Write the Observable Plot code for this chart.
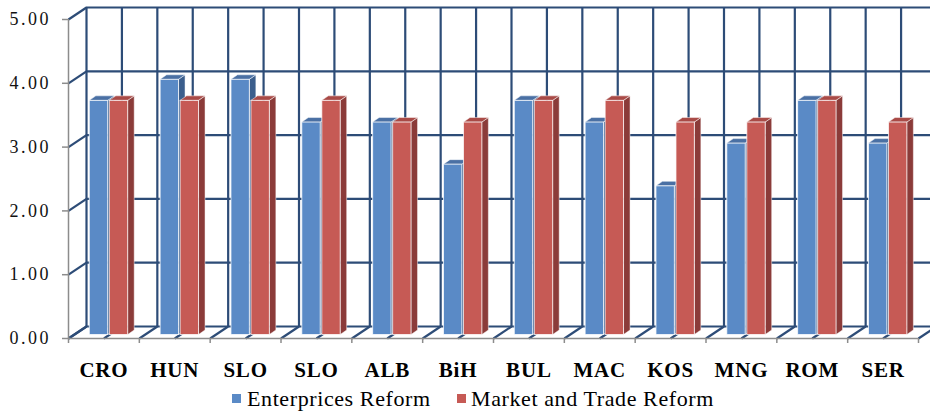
<!DOCTYPE html>
<html><head><meta charset="utf-8">
<script src="https://cdn.jsdelivr.net/npm/d3@7"></script>
<script src="https://cdn.jsdelivr.net/npm/@observablehq/plot@0.6"></script>
<style>
html,body{margin:0;padding:0;background:#fff;overflow:hidden;}
#chart svg{display:block;overflow:hidden;}
#chart g[text-anchor="end"] text{letter-spacing:2.5px;}
#chart g[font-weight="bold"] text{letter-spacing:0.8px;}
#legend{position:relative;width:930px;height:28px;font-family:"Liberation Serif","Times New Roman",serif;font-size:22px;letter-spacing:0.6px;color:#000;}
#legend .sw{position:absolute;top:9px;width:9px;height:9px;}
#legend .lb{position:absolute;top:3px;line-height:22px;white-space:nowrap;}
</style></head><body>
<div id="chart"></div>
<div id="legend"></div>
<script>
// ---- data ----
const categories = ["CRO","HUN","SLO","SLO","ALB","BiH","BUL","MAC","KOS","MNG","ROM","SER"];
const enterprisesReform = [3.67,4.00,4.00,3.33,3.33,2.67,3.67,3.33,2.33,3.00,3.67,3.00];
const marketTradeReform = [3.67,3.67,3.67,3.67,3.33,3.33,3.67,3.67,3.33,3.33,3.67,3.33];
const seriesNames = ["Enterprices Reform","Market and Trade Reform"];
const valueTicks = [0,1,2,3,4,5];

// ---- styles / layout ----
const frontColors = ["#5A8AC6","#C65A55"];
const sideColors = ["#3B5E8C","#8B3B39"];
const topColors = ["#4A70A4","#A94A46"];
const gridColor = "#2D4C77";
const axisColor = "#8C8C8C";
const W = 930, H = 385, ML = 68, MR = 12, MT = 19, MB = 47;
const nCat = categories.length;
const catPx = (W - ML - MR) / nCat;
const unitPx = (H - MT - MB) / 5;
const px2x = p => p / catPx, px2y = p => p / unitPx;
const wallDX = px2x(18), wallDY = px2y(12);
const faceDX = px2x(5), faceDY = px2y(3.5);
const depthDX = px2x(6.5), depthDY = px2y(4.5);
const barW = px2x(18.4), barGap = px2x(1.6), barStart = px2x(16.3);

const series = [enterprisesReform, marketTradeReform];
const bars = [];
categories.forEach((c, i) => series.forEach((vals, s) => bars.push({i, s, c, v: vals[i], id: i * 2 + s})));
const xl = b => b.i + faceDX + barStart + b.s * (barW + barGap);
const xr = b => xl(b) + barW;

const sides = bars.flatMap(b => [
  {id: b.id, s: b.s, x: xr(b), y1: faceDY, y2: b.v + faceDY},
  {id: b.id, s: b.s, x: xr(b) + depthDX, y1: faceDY + depthDY, y2: b.v + faceDY + depthDY}
]);
const tops = bars.flatMap(b => [
  {id: b.id, s: b.s, y: b.v + faceDY, x1: xl(b), x2: xr(b)},
  {id: b.id, s: b.s, y: b.v + faceDY + depthDY, x1: xl(b) + depthDX, x2: xr(b) + depthDX}
]);
const gridX = d3.range(0, nCat + 0.01, 0.5);
const catBounds = d3.range(0, nCat + 1);

const barMarks = [];
[0, 1].forEach(s => barMarks.push(
  Plot.areaY(sides.filter(d => d.s === s), {x: "x", y1: "y1", y2: "y2", z: "id", fill: sideColors[s], stroke: "#ffffff", strokeWidth: 0.8, strokeOpacity: 0.6})
));
[0, 1].forEach(s => barMarks.push(
  Plot.areaX(tops.filter(d => d.s === s), {y: "y", x1: "x1", x2: "x2", z: "id", fill: topColors[s], stroke: "#ffffff", strokeWidth: 0.8, strokeOpacity: 0.6})
));
[0, 1].forEach(s => barMarks.push(
  Plot.rect(bars.filter(d => d.s === s), {x1: xl, x2: xr, y1: () => faceDY, y2: d => d.v + faceDY, fill: frontColors[s], stroke: "#ffffff", strokeWidth: 1, strokeOpacity: 0.75})
));

const chart = Plot.plot({
  width: W, height: H,
  marginLeft: ML, marginRight: MR, marginTop: MT, marginBottom: MB,
  x: {type: "linear", domain: [0, nCat]},
  y: {type: "linear", domain: [0, 5]},
  style: {fontFamily: "'Liberation Serif','Times New Roman',serif", background: "#fff", color: "#000"},
  marks: [
    // back wall
    Plot.ruleY(valueTicks, {y: d => d + wallDY, x1: () => wallDX, x2: () => nCat + wallDX, stroke: gridColor, strokeWidth: 2.2}),
    Plot.ruleX(gridX, {x: d => d + wallDX, y1: () => wallDY, y2: () => 5 + wallDY, stroke: gridColor, strokeWidth: 2.2}),
    // side wall
    Plot.link(valueTicks, {x1: () => 0, y1: d => d, x2: () => wallDX, y2: d => d + wallDY, stroke: gridColor, strokeWidth: 2.2}),
    // floor
    Plot.link(gridX, {x1: d => d, y1: () => 0, x2: d => d + wallDX, y2: () => wallDY, stroke: gridColor, strokeWidth: 2.2}),
    ...barMarks,
    // axes
    Plot.ruleX([0], {y1: 0, y2: 5, stroke: axisColor, strokeWidth: 1.5}),
    Plot.ruleY([0], {x1: 0, x2: nCat, stroke: axisColor, strokeWidth: 1.5}),
    Plot.axisY(valueTicks, {tickSize: 6, tickFormat: () => "", stroke: axisColor, strokeWidth: 1.5, label: null}),
    Plot.axisX(catBounds, {tickSize: 5, tickFormat: () => "", stroke: axisColor, strokeWidth: 1.5, label: null}),
    Plot.text(valueTicks, {x: () => 0, y: d => d, dx: -17.5, text: d => d3.format(".2f")(d), textAnchor: "end", fontSize: 18, fill: "#111"}),
    Plot.text(categories, {x: (d, i) => i + 0.5, y: () => 0, dy: 32, text: d => d, fontSize: 21, fontWeight: "bold", fill: "#000"})
  ]
});
document.getElementById("chart").appendChild(chart);

// legend
const legend = document.getElementById("legend");
const legendPos = [{sw: 232, lb: 247}, {sw: 457, lb: 471}];
seriesNames.forEach((name, s) => {
  const sw = document.createElement("div");
  sw.className = "sw"; sw.style.left = legendPos[s].sw + "px"; sw.style.background = frontColors[s];
  const lb = document.createElement("div");
  lb.className = "lb"; lb.style.left = legendPos[s].lb + "px"; lb.textContent = name;
  legend.appendChild(sw); legend.appendChild(lb);
});
</script>
</body></html>
